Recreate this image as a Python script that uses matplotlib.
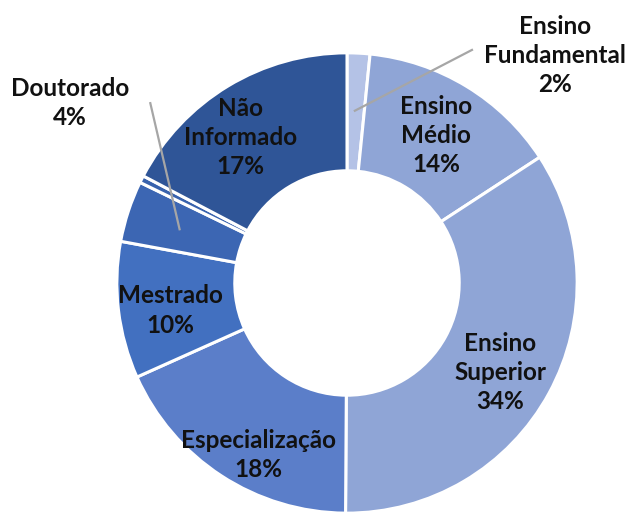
import matplotlib.pyplot as plt

# data (percent of respondents)
categories = ["Ensino\nFundamental", "Ensino\nMédio", "Ensino\nSuperior", "Especialização",
              "Mestrado", "Doutorado", "Outro", "Não\nInformado"]
values = [1.6, 14.2, 34.3, 18.2, 9.6, 4.3, 0.5, 17.3]
colors = ["#b4c2e6", "#8fa5d6", "#8fa5d6", "#5b7ec9", "#4270c0", "#3c66b3", "#3862ad", "#2f5597"]

# label placement (data coords, pie radius = 1)
inside_pos = {1: (0.39, 0.645), 2: (0.67, -0.39), 3: (-0.385, -0.75), 4: (-0.77, -0.12), 7: (-0.465, 0.635)}
outside_pos = {0: (0.91, 0.995), 5: (-1.21, 0.785)}
leader_end = {0: ((0.55, 1.02), (0.03, 0.75)), 5: ((-0.86, 0.79), (-0.73, 0.23))}

fig = plt.figure(figsize=(6.34, 5.13), dpi=100)
ax = fig.add_axes([0, 0, 1, 1])

wedges, _ = ax.pie(values, colors=colors, startangle=90, counterclock=False,
                   radius=1.005, wedgeprops=dict(width=0.515, edgecolor="white", linewidth=2.2))

font = dict(family=["Lato", "DejaVu Sans"], fontweight="bold", fontsize=17.5,
            ha="center", va="center", linespacing=1.32, color="#111111")

for i, (x, y) in inside_pos.items():
    ax.text(x, y, f"{categories[i]}\n{values[i]:.0f}%", **font)

for i, (x, y) in outside_pos.items():
    ax.text(x, y, f"{categories[i]}\n{values[i]:.0f}%", **font)
    (x0, y0), (x1, y1) = leader_end[i]
    ax.plot([x0, x1], [y0, y1], color="#a6a6a6", lw=1.6, solid_capstyle="butt")

ax.set_xlim(-347 / 229, (634 - 347) / 229)
ax.set_ylim(-(513 - 283) / 229, 283 / 229)
ax.set_aspect("auto")
ax.axis("off")

fig.savefig("out.png", dpi=100)
